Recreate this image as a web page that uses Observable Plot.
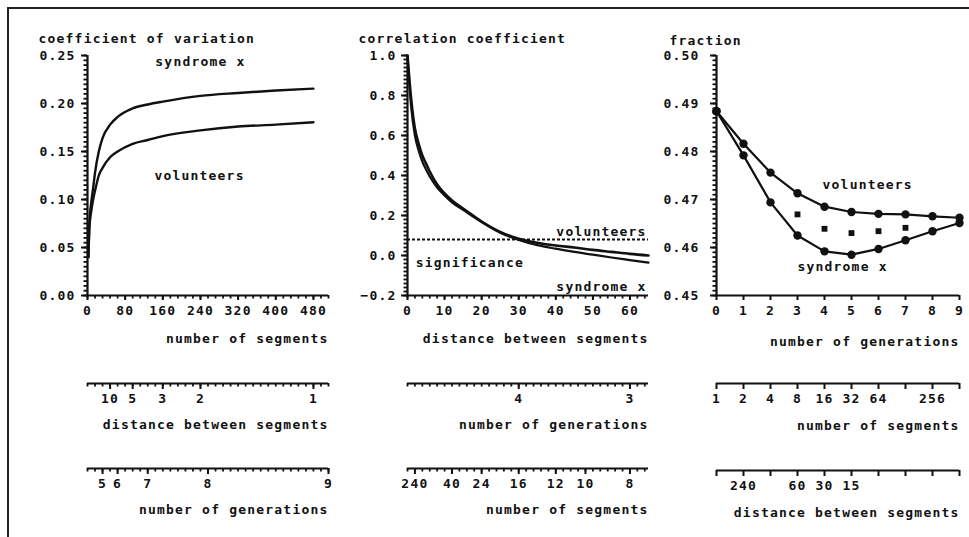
<!DOCTYPE html>
<html>
<head>
<meta charset="utf-8">
<script src="https://cdn.jsdelivr.net/npm/d3@7"></script>
<script src="https://cdn.jsdelivr.net/npm/@observablehq/plot@0.6"></script>
<style>
  body { margin: 0; background: #fff; }
  #wrap { position: relative; width: 969px; height: 537px; overflow: hidden; background: #fff; }
  #border { position: absolute; left: 7px; top: 7px; width: 980px; height: 560px;
            border-left: 2px solid #222; border-top: 2px solid #222; }
</style>
</head>
<body>
<div id="wrap"><div id="border"></div></div>
<script>
// ---------- Panel 1: coefficient of variation vs number of segments ----------
const p1Segments   = [2, 4, 8, 12, 16, 24, 32, 48, 64, 96, 128, 160, 240, 320, 400, 480];
const p1Syndrome   = [0.040, 0.075, 0.097, 0.112, 0.128, 0.150, 0.164, 0.178, 0.186, 0.195, 0.199, 0.202, 0.208, 0.211, 0.2135, 0.2155];
const p1Volunteers = [0.040, 0.070, 0.088, 0.100, 0.109, 0.125, 0.133, 0.144, 0.150, 0.158, 0.162, 0.166, 0.172, 0.176, 0.178, 0.1805];
const p1XTicks = [0, 80, 160, 240, 320, 400, 480];
const p1YTicks = [0, 0.05, 0.10, 0.15, 0.20, 0.25];
const p1DistanceLabels   = [10, 5, 3, 2, 1];
const p1GenerationLabels = [5, 6, 7, 8, 9];

// ---------- Panel 2: correlation coefficient vs distance between segments ----------
const p2Distance   = [0, 1, 2, 3, 4, 5, 6, 8, 10, 12, 15, 20, 25, 30, 35, 40, 45, 50, 55, 60, 65];
const p2Volunteers = [1.0, 0.78, 0.635, 0.56, 0.50, 0.46, 0.42, 0.355, 0.31, 0.275, 0.235, 0.17, 0.118, 0.084, 0.064, 0.050, 0.040, 0.028, 0.018, 0.008, 0.000];
const p2Syndrome   = [1.0, 0.74, 0.600, 0.525, 0.47, 0.43, 0.395, 0.340, 0.30, 0.265, 0.228, 0.167, 0.114, 0.078, 0.052, 0.034, 0.018, 0.004, -0.010, -0.023, -0.036];
const p2Significance = [0.08];
const p2XTicks = [0, 10, 20, 30, 40, 50, 60];
const p2YTicks = [-0.2, 0, 0.2, 0.4, 0.6, 0.8, 1.0];
const p2GenerationLabels = [4, 3];
const p2SegmentLabels    = [240, 40, 24, 16, 12, 10, 8];

// ---------- Panel 3: fraction vs number of generations ----------
const p3Generations = [0, 1, 2, 3, 4, 5, 6, 7, 8, 9];
const p3Volunteers  = [0.4884, 0.4816, 0.4756, 0.4713, 0.4685, 0.4674, 0.4670, 0.4669, 0.4665, 0.4662];
const p3Syndrome    = [0.4884, 0.4792, 0.4694, 0.4625, 0.4592, 0.4585, 0.4597, 0.4615, 0.4634, 0.4651];
const p3MidGenerations = [3, 4, 5, 6, 7];
const p3Mid            = [0.4669, 0.4639, 0.4630, 0.4634, 0.4641];
const p3YTicks = [0.45, 0.46, 0.47, 0.48, 0.49, 0.50];
const p3SegmentLabels  = ["1", "2", "4", "8", "16", "32", "64", "", "256", ""];
const p3DistanceLabels = ["", "240", "", "60", "30", "15", "", "", "", ""];

// ---------- helpers ----------
const INK = "#111";
const STYLE = {
  fontFamily: "'DejaVu Sans Mono', monospace",
  fontWeight: "bold",
  fontSize: "13px",
  letterSpacing: "1.2px",
  color: INK,
  background: "transparent",
  overflow: "visible"
};
const wrap = document.getElementById("wrap");
function place(el, left, top) {
  el.style.position = "absolute";
  el.style.left = left + "px";
  el.style.top = top + "px";
  wrap.appendChild(el);
}
const T = d => d;
const minorOpts = {tickSize: 3.5, stroke: INK, strokeWidth: 1.8, fill: "none", label: null};
const majorOpts = {stroke: INK, strokeWidth: 2, fill: INK, label: null};

function secondaryAxis({width, mL, mR, domain, minor, positions, labels, title, titleDy}) {
  const fmt = new Map(positions.map((p, i) => [p, String(labels[i])]));
  return Plot.plot({
    width, height: 62, marginLeft: mL, marginRight: mR, marginTop: 0, marginBottom: 61,
    style: STYLE,
    x: {domain},
    y: {domain: [0, 1], axis: null},
    marks: [
      minor ? Plot.axisX(minor, minorOpts) : null,
      Plot.axisX(positions, {...majorOpts, tickSize: 6, tickPadding: 4, tickFormat: d => fmt.get(d)}),
      Plot.ruleY([0], {stroke: INK, strokeWidth: 2}),
      Plot.text([title], {text: T, frameAnchor: "bottom-right", textAnchor: "end", dy: titleDy})
    ]
  });
}

// ---------- Panel 1 ----------
const p1Data = p1Segments.map((n, i) => ({n, syn: p1Syndrome[i], vol: p1Volunteers[i]}));
const panel1 = Plot.plot({
  width: 340, height: 360, marginLeft: 87, marginRight: 12, marginTop: 55, marginBottom: 65,
  style: STYLE,
  x: {domain: [0, 512]},
  y: {domain: [0, 0.25]},
  marks: [
    Plot.axisY(d3.range(0, 0.2501, 0.005), minorOpts),
    Plot.axisY(p1YTicks, {...majorOpts, tickSize: 6, tickPadding: 6, tickFormat: d3.format(".2f")}),
    Plot.axisX(d3.range(0, 513, 16), minorOpts),
    Plot.axisX(p1XTicks, {...majorOpts, tickSize: 5, tickPadding: 5}),
    Plot.ruleX([0], {stroke: INK, strokeWidth: 2.2}),
    Plot.ruleY([0], {stroke: INK, strokeWidth: 2.2}),
    Plot.line(p1Data, {x: "n", y: "syn", stroke: INK, strokeWidth: 2.4, curve: "monotone-x"}),
    Plot.line(p1Data, {x: "n", y: "vol", stroke: INK, strokeWidth: 2.4, curve: "monotone-x"}),
    Plot.text(["syndrome x"], {text: T, x: 240, y: 0.243}),
    Plot.text(["volunteers"], {text: T, x: 238, y: 0.125}),
    Plot.text(["coefficient of variation"], {text: T, frameAnchor: "top-left", textAnchor: "start", dx: -49, dy: -22}),
    Plot.text(["number of segments"], {text: T, frameAnchor: "bottom-right", textAnchor: "end", dy: 47})
  ]
});
place(panel1, 0, 0);

place(secondaryAxis({width: 340, mL: 87, mR: 12, domain: [0, 512], minor: d3.range(0, 513, 16),
  positions: p1DistanceLabels.map(d => 480 / d), labels: p1DistanceLabels,
  title: "distance between segments", titleDy: 45}), 0, 382);
place(secondaryAxis({width: 340, mL: 87, mR: 12, domain: [0, 512], minor: d3.range(0, 513, 16),
  positions: p1GenerationLabels.map(g => 2 ** g), labels: p1GenerationLabels,
  title: "number of generations", titleDy: 45}), 0, 467);

// ---------- Panel 2 ----------
const p2Data = p2Distance.map((d, i) => ({d, vol: p2Volunteers[i], syn: p2Syndrome[i]}));
const panel2 = Plot.plot({
  width: 320, height: 360, marginLeft: 67, marginRight: 12, marginTop: 55, marginBottom: 65,
  style: STYLE,
  x: {domain: [0, 65]},
  y: {domain: [-0.2, 1.0]},
  marks: [
    Plot.axisY(d3.range(-0.2, 1.0001, 0.02), minorOpts),
    Plot.axisY(p2YTicks, {...majorOpts, tickSize: 6, tickPadding: 5, tickFormat: d3.format(".1f")}),
    Plot.axisX(d3.range(0, 65, 2), minorOpts),
    Plot.axisX(p2XTicks, {...majorOpts, tickSize: 5, tickPadding: 5}),
    Plot.ruleX([0], {stroke: INK, strokeWidth: 2.2}),
    Plot.ruleY([-0.2], {stroke: INK, strokeWidth: 2.2}),
    Plot.ruleY(p2Significance, {stroke: INK, strokeWidth: 2, strokeDasharray: "3,2"}),
    Plot.line(p2Data, {x: "d", y: "vol", stroke: INK, strokeWidth: 2.6, curve: "monotone-x"}),
    Plot.line(p2Data, {x: "d", y: "syn", stroke: INK, strokeWidth: 2.2, curve: "monotone-x"}),
    Plot.text(["volunteers"], {text: T, x: 64.5, y: 0.12, textAnchor: "end"}),
    Plot.text(["significance"], {text: T, x: 2.2, y: -0.035, textAnchor: "start"}),
    Plot.text(["syndrome x"], {text: T, x: 64.5, y: -0.155, textAnchor: "end"}),
    Plot.text(["correlation coefficient"], {text: T, frameAnchor: "top-left", textAnchor: "start", dx: -49, dy: -22}),
    Plot.text(["distance between segments"], {text: T, frameAnchor: "bottom-right", textAnchor: "end", dy: 47})
  ]
});
place(panel2, 340, 0);

place(secondaryAxis({width: 320, mL: 67, mR: 12, domain: [0, 65], minor: d3.range(0, 65, 2),
  positions: p2GenerationLabels.map(g => 480 / 2 ** g), labels: p2GenerationLabels,
  title: "number of generations", titleDy: 45}), 340, 382);
place(secondaryAxis({width: 320, mL: 67, mR: 12, domain: [0, 65], minor: d3.range(0, 65, 2),
  positions: p2SegmentLabels.map(n => 480 / n), labels: p2SegmentLabels,
  title: "number of segments", titleDy: 45}), 340, 467);

// ---------- Panel 3 ----------
const p3Data = p3Generations.map((g, i) => ({g, vol: p3Volunteers[i], syn: p3Syndrome[i]}));
const p3MidData = p3MidGenerations.map((g, i) => ({g, v: p3Mid[i]}));
const panel3 = Plot.plot({
  width: 309, height: 360, marginLeft: 56, marginRight: 10, marginTop: 55, marginBottom: 65,
  style: STYLE,
  x: {domain: [0, 9]},
  y: {domain: [0.45, 0.50]},
  marks: [
    Plot.axisY(d3.range(0.45, 0.50001, 0.001), minorOpts),
    Plot.axisY(p3YTicks, {...majorOpts, tickSize: 6, tickPadding: 11, tickFormat: d3.format(".2f")}),
    Plot.axisX(p3Generations, {...majorOpts, tickSize: 5, tickPadding: 5}),
    Plot.ruleX([0], {stroke: INK, strokeWidth: 2.2}),
    Plot.ruleY([0.45], {stroke: INK, strokeWidth: 2.2}),
    Plot.line(p3Data, {x: "g", y: "vol", stroke: INK, strokeWidth: 2.2}),
    Plot.line(p3Data, {x: "g", y: "syn", stroke: INK, strokeWidth: 2.2}),
    Plot.dot(p3Data, {x: "g", y: "vol", r: 4.2, fill: INK, stroke: "none"}),
    Plot.dot(p3Data, {x: "g", y: "syn", r: 4.2, fill: INK, stroke: "none"}),
    Plot.dot(p3MidData, {x: "g", y: "v", r: 3.3, symbol: "square", fill: INK, stroke: "none"}),
    Plot.text(["volunteers"], {text: T, x: 5.6, y: 0.4731}),
    Plot.text(["syndrome x"], {text: T, x: 4.67, y: 0.4559}),
    Plot.text(["fraction"], {text: T, frameAnchor: "top-left", textAnchor: "start", dx: -47, dy: -20}),
    Plot.text(["number of generations"], {text: T, frameAnchor: "bottom-right", textAnchor: "end", dy: 50})
  ]
});
place(panel3, 660, 0);

place(secondaryAxis({width: 309, mL: 56, mR: 10, domain: [0, 9], minor: null,
  positions: p3Generations, labels: p3SegmentLabels,
  title: "number of segments", titleDy: 46}), 660, 382);
place(secondaryAxis({width: 309, mL: 56, mR: 10, domain: [0, 9], minor: null,
  positions: p3Generations, labels: p3DistanceLabels,
  title: "distance between segments", titleDy: 46}), 660, 469);
</script>
</body>
</html>
